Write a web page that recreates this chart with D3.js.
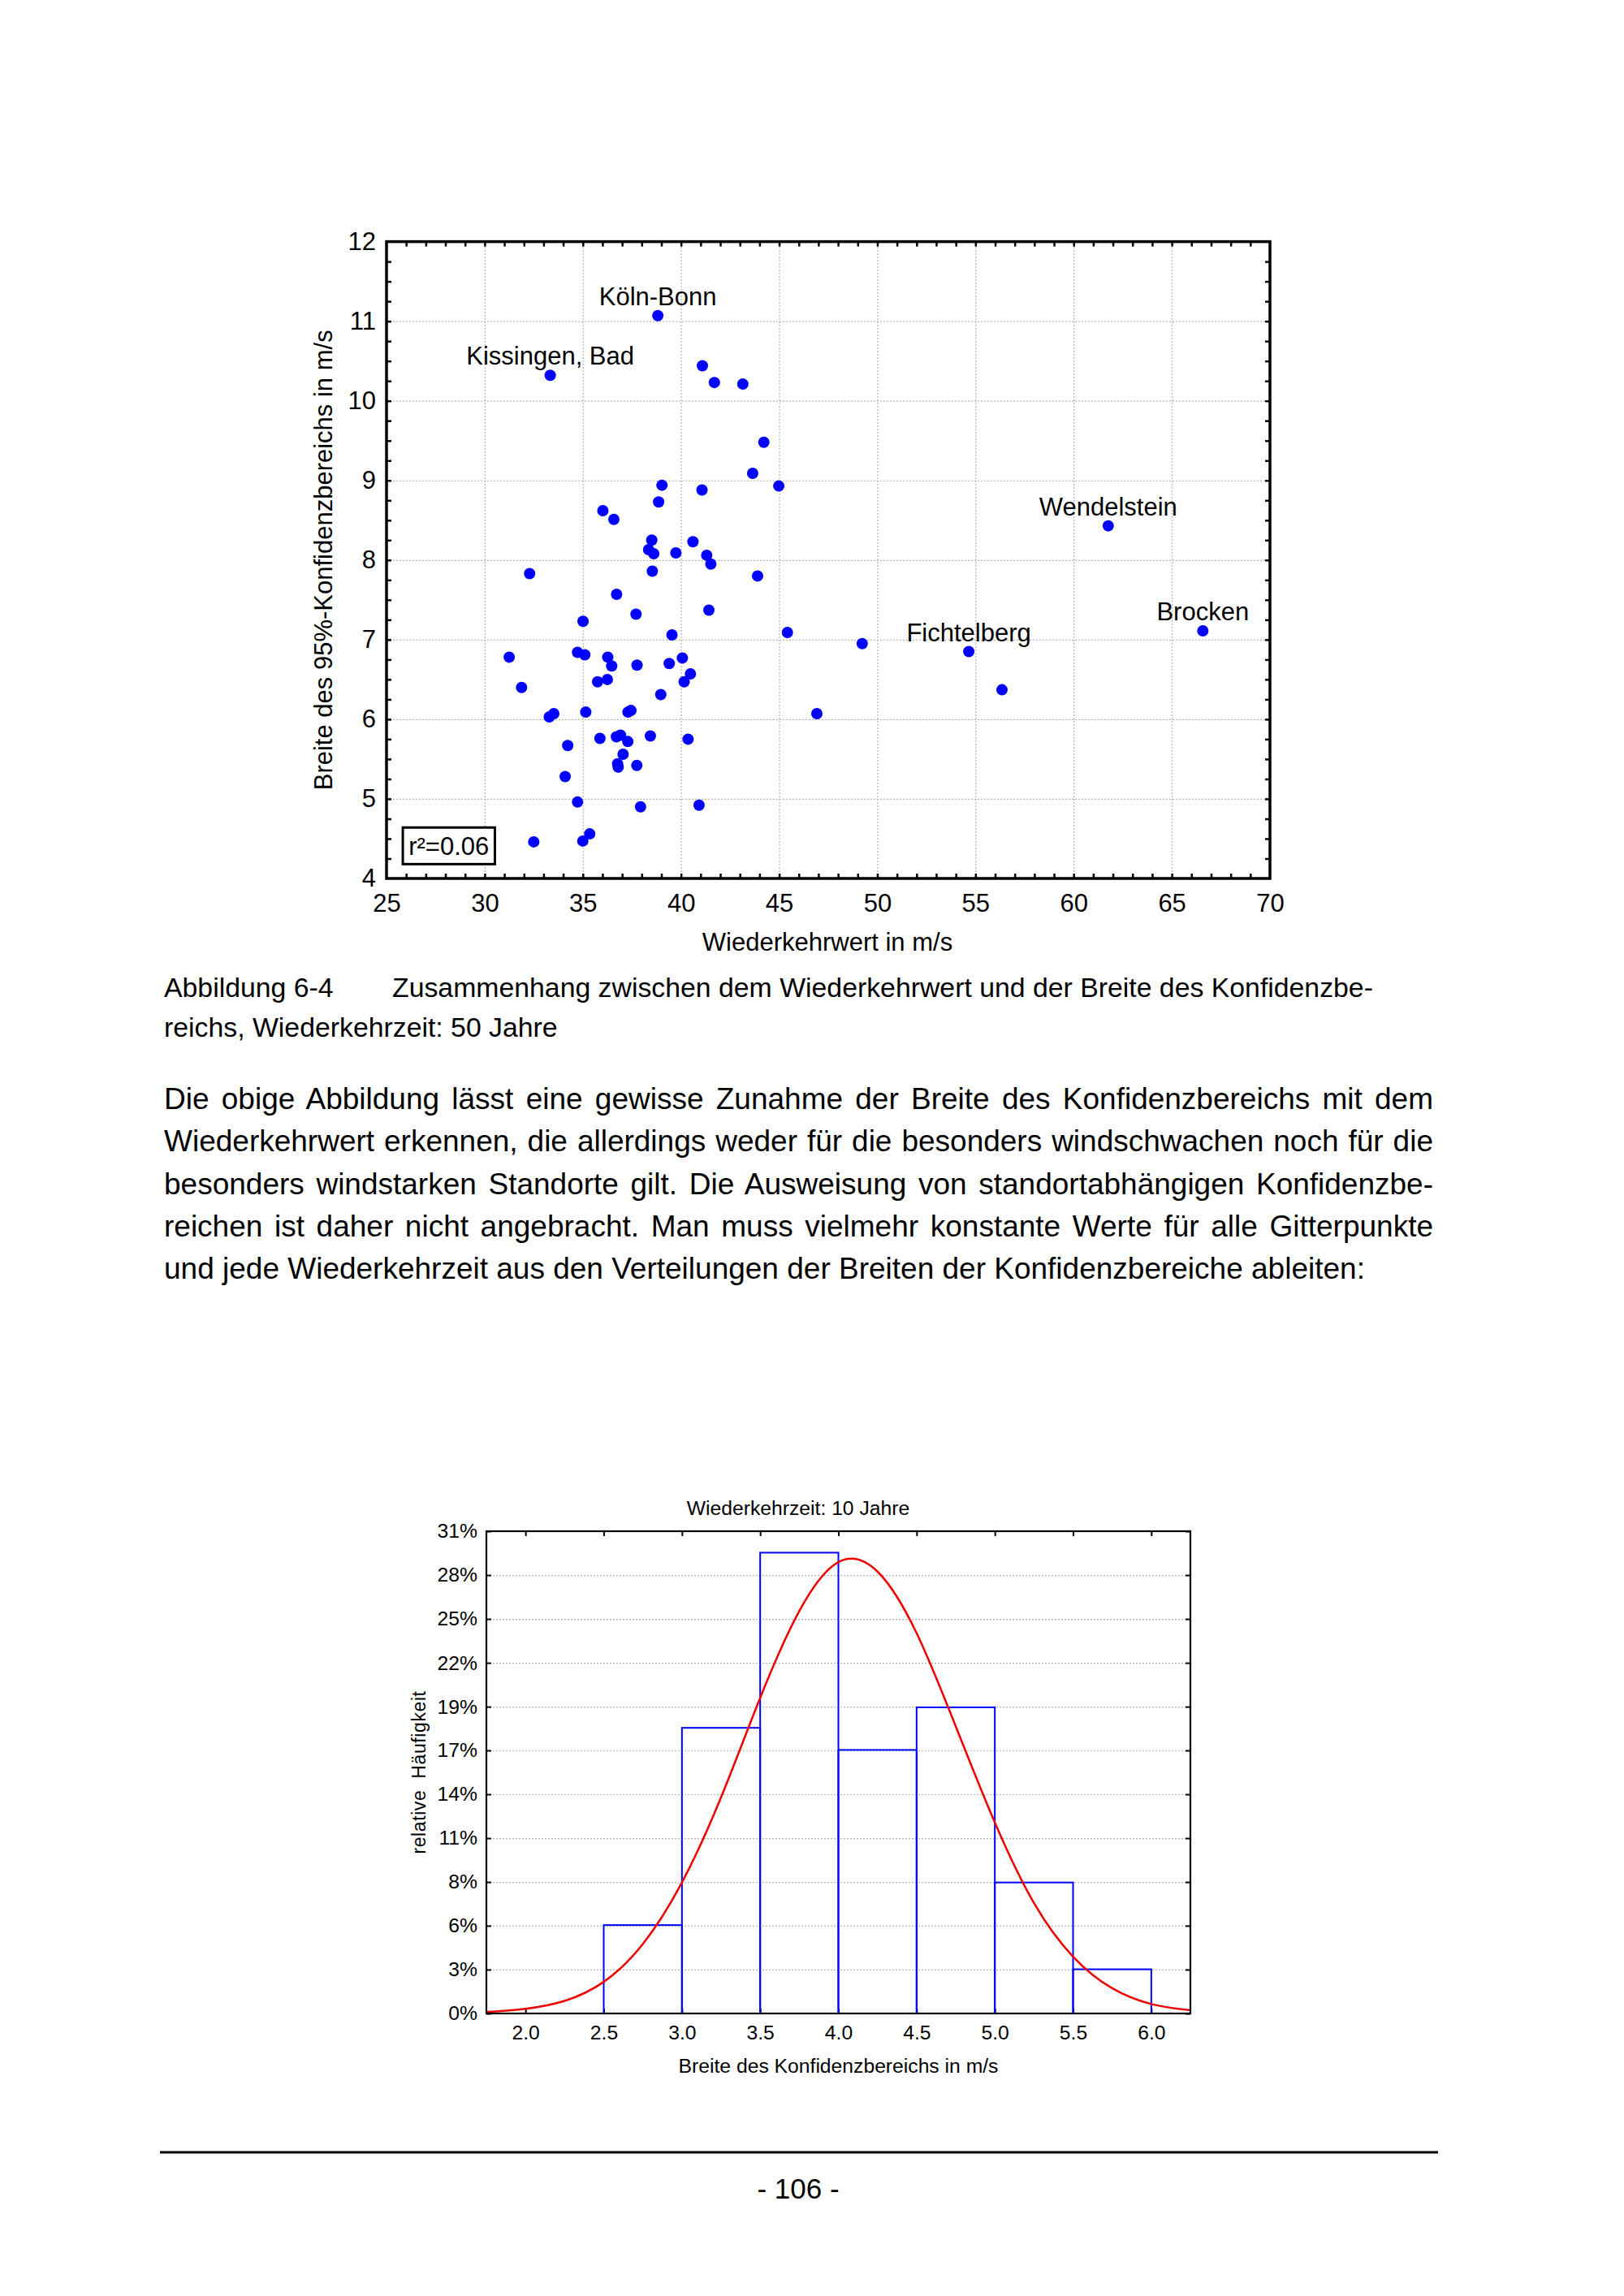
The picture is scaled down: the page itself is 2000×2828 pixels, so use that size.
<!DOCTYPE html>
<html>
<head>
<meta charset="utf-8">
<script src="https://cdnjs.cloudflare.com/ajax/libs/d3/7.8.5/d3.min.js"></script>
<style>
    body { margin: 0; background: #fff; }
    svg text { font-family: "Liberation Sans", Arial, Helvetica, sans-serif; }
</style>
</head>
<body>
<div id="page"></div>
<script>
// ---- scatter data (Wiederkehrzeit 50 Jahre) ----
// the first five entries are the labelled stations
const stationNames = ['Köln-Bonn', 'Kissingen, Bad', 'Wendelstein', 'Fichtelberg', 'Brocken'];
const returnValues = [
    38.82, 33.34, 61.76, 54.66, 66.58,
    41.09, 41.70, 43.15, 44.22, 43.65, 44.98, 39.03, 41.07, 38.86, 36.02,
    36.58, 38.51, 40.61, 38.35, 38.61, 39.74, 41.31, 41.52, 38.54, 32.29,
    43.90, 36.72, 37.71, 41.42, 35.01, 39.54, 45.42, 49.23, 31.25, 34.73,
    35.10, 36.27, 36.47, 37.76, 39.40, 40.07, 40.48, 40.16, 31.88, 35.75,
    36.25, 38.97, 33.29, 33.52, 35.15, 37.30, 37.45, 46.92, 56.35, 35.87,
    36.71, 36.92, 37.29, 38.44, 40.36, 34.23, 37.05, 36.77, 36.80, 37.75,
    34.10, 34.73, 37.94, 40.92, 32.50, 35.00, 35.35
];
const ciWidths = [
    11.07, 10.32, 8.43, 6.85, 7.11,
    10.44, 10.23, 10.21, 9.48, 9.09, 8.93, 8.94, 8.88, 8.73, 8.62,
    8.51, 8.25, 8.23, 8.13, 8.08, 8.09, 8.06, 7.95, 7.86, 7.83,
    7.80, 7.57, 7.32, 7.37, 7.23, 7.06, 7.09, 6.95, 6.78, 6.84,
    6.81, 6.78, 6.67, 6.68, 6.70, 6.77, 6.57, 6.47, 6.40, 6.47,
    6.50, 6.31, 6.03, 6.07, 6.09, 6.09, 6.11, 6.07, 6.37, 5.76,
    5.78, 5.80, 5.72, 5.79, 5.75, 5.67, 5.56, 5.44, 5.40, 5.42,
    5.28, 4.96, 4.90, 4.92, 4.46, 4.47, 4.56
];
const scatterXTicks = [25, 30, 35, 40, 45, 50, 55, 60, 65, 70];
const scatterYTicks = [4, 5, 6, 7, 8, 9, 10, 11, 12];
const rSquaredLabel = 'r²=0.06';

// ---- histogram data (Wiederkehrzeit 10 Jahre) ----
const binStarts = [2.5, 3.0, 3.5, 4.0, 4.5, 5.0, 5.5];
const binFreq = [5.6, 18.1, 29.2, 16.7, 19.4, 8.3, 2.8];   // percent
const histXTicks = [2.0, 2.5, 3.0, 3.5, 4.0, 4.5, 5.0, 5.5, 6.0];
const histYTicks = [0, 2.78, 5.56, 8.33, 11.11, 13.89, 16.67, 19.44, 22.22, 25.0, 27.78, 30.56];
const histYLabels = ['0%', '3%', '6%', '8%', '11%', '14%', '17%', '19%', '22%', '25%', '28%', '31%'];
// red normal curve, every 0.25 m/s
const curveX = [1.75, 2.0, 2.25, 2.5, 2.75, 3.0, 3.25, 3.5, 3.75, 4.0, 4.25, 4.5, 4.75, 5.0, 5.25, 5.5, 5.75, 6.0, 6.25];
const curveY = [0.1, 0.3, 0.8, 2.0, 4.4, 8.3, 13.7, 20.0, 25.5, 28.6, 28.0, 24.1, 18.2, 12.1, 7.0, 3.6, 1.6, 0.6, 0.2];

// ---- page text ----
const captionLabel = 'Abbildung 6-4';
const captionLines = [
    'Zusammenhang zwischen dem Wiederkehrwert und der Breite des Konfidenzbe-',
    'reichs, Wiederkehrzeit: 50 Jahre'
];
const paragraphLines = [
    'Die obige Abbildung lässt eine gewisse Zunahme der Breite des Konfidenzbereichs mit dem',
    'Wiederkehrwert erkennen, die allerdings weder für die besonders windschwachen noch für die',
    'besonders windstarken Standorte gilt. Die Ausweisung von standortabhängigen Konfidenzbe-',
    'reichen ist daher nicht angebracht. Man muss vielmehr konstante Werte für alle Gitterpunkte',
    'und jede Wiederkehrzeit aus den Verteilungen der Breiten der Konfidenzbereiche ableiten:'
];
const pageNumber = '- 106 -';

const svg = d3.select('#page').append('svg')
    .attr('width', 2000)
    .attr('height', 2828);
svg.append('rect').attr('width', 2000).attr('height', 2828).attr('fill', '#fff');

function styleGrid(g) {
    g.select('.domain').remove();
    g.selectAll('.tick line').attr('stroke', '#b4b4b4').attr('stroke-width', 1.2).attr('stroke-dasharray', '2,2');
}
function styleTicks(g, w) {
    g.select('.domain').remove();
    g.selectAll('.tick line').attr('stroke', '#000').attr('stroke-width', w || 2.5);
}

function drawScatter() {
    const left = 476, right = 1564, top = 297.6, bottom = 1082;
    const x = d3.scaleLinear().domain([25, 70]).range([left, right]);
    const y = d3.scaleLinear().domain([4, 12]).range([bottom, top]);
    const chart = svg.append('g').attr('class', 'scatter');

    // grid
    chart.append('g').attr('transform', `translate(0,${bottom})`)
        .call(d3.axisBottom(x).tickValues(scatterXTicks.slice(1, -1)).tickSize(-(bottom - top)).tickFormat(''))
        .call(styleGrid);
    chart.append('g').attr('transform', `translate(${left},0)`)
        .call(d3.axisLeft(y).tickValues(scatterYTicks.slice(1, -1)).tickSize(-(right - left)).tickFormat(''))
        .call(styleGrid);

    // small inner ticks on all four sides
    const xMinor = d3.range(26, 70, 1);
    const yMinor = d3.range(4.25, 12, 0.25);
    chart.append('g').attr('transform', `translate(0,${bottom})`)
        .call(d3.axisBottom(x).tickValues(xMinor).tickSize(-6).tickFormat('')).call(styleTicks);
    chart.append('g').attr('transform', `translate(0,${top})`)
        .call(d3.axisTop(x).tickValues(xMinor).tickSize(-6).tickFormat('')).call(styleTicks);
    chart.append('g').attr('transform', `translate(${left},0)`)
        .call(d3.axisLeft(y).tickValues(yMinor).tickSize(-6).tickFormat('')).call(styleTicks);
    chart.append('g').attr('transform', `translate(${right},0)`)
        .call(d3.axisRight(y).tickValues(yMinor).tickSize(-6).tickFormat('')).call(styleTicks);

    // frame
    chart.append('rect')
        .attr('x', left).attr('y', top)
        .attr('width', right - left).attr('height', bottom - top)
        .attr('fill', 'none').attr('stroke', '#000').attr('stroke-width', 3.5);

    // tick labels
    const xl = chart.append('g').attr('transform', `translate(0,${bottom})`)
        .call(d3.axisBottom(x).tickValues(scatterXTicks).tickSize(0).tickPadding(19).tickFormat(d3.format('d')));
    xl.select('.domain').remove();
    xl.selectAll('text').attr('font-size', 31).attr('font-family', 'Liberation Sans').attr('fill', '#000');
    const yl = chart.append('g').attr('transform', `translate(${left},0)`)
        .call(d3.axisLeft(y).tickValues(scatterYTicks).tickSize(0).tickPadding(13).tickFormat(d3.format('d')));
    yl.select('.domain').remove();
    yl.selectAll('text').attr('font-size', 31).attr('font-family', 'Liberation Sans').attr('fill', '#000');

    // axis titles
    chart.append('text')
        .attr('x', (left + right) / 2 - 1).attr('y', 1171)
        .attr('text-anchor', 'middle').attr('font-size', 31)
        .text('Wiederkehrwert in m/s');
    chart.append('text')
        .attr('transform', `translate(409,${(top + bottom) / 2}) rotate(-90)`)
        .attr('text-anchor', 'middle').attr('font-size', 31)
        .text('Breite des 95%-Konfidenzbereichs in m/s');

    // points
    chart.append('g').selectAll('circle')
        .data(returnValues)
        .join('circle')
        .attr('cx', d => x(d))
        .attr('cy', (d, i) => y(ciWidths[i]))
        .attr('r', 7)
        .attr('fill', '#0000ff');

    // station names
    chart.append('g').selectAll('text')
        .data(stationNames)
        .join('text')
        .attr('x', (d, i) => x(returnValues[i]))
        .attr('y', (d, i) => y(ciWidths[i]) - 13)
        .attr('text-anchor', 'middle')
        .attr('font-size', 31)
        .text(d => d);

    // r² box
    const bx = x(25.83), bw = x(30.52) - x(25.83);
    const by = y(4.64), bh = y(4.18) - y(4.64);
    chart.append('rect')
        .attr('x', bx).attr('y', by).attr('width', bw).attr('height', bh)
        .attr('fill', '#fff').attr('stroke', '#000').attr('stroke-width', 3);
    chart.append('text')
        .attr('x', bx + bw / 2).attr('y', by + bh / 2 + 11)
        .attr('text-anchor', 'middle').attr('font-size', 31)
        .text(rSquaredLabel);
}

function drawHistogram() {
    const left = 599, right = 1466, top = 1886, bottom = 2480;
    const x = d3.scaleLinear().domain([1.75, 6.25]).range([left, right]);
    const y = d3.scaleLinear().domain([0, 30.56]).range([bottom, top]);
    const chart = svg.append('g').attr('class', 'histogram');

    chart.append('g').attr('transform', `translate(${left},0)`)
        .call(d3.axisLeft(y).tickValues(histYTicks.slice(1, -1)).tickSize(-(right - left)).tickFormat(''))
        .call(styleGrid);

    chart.append('g').attr('transform', `translate(0,${bottom})`)
        .call(d3.axisBottom(x).tickValues(histXTicks).tickSize(-6).tickFormat('')).call(g => styleTicks(g, 2));
    chart.append('g').attr('transform', `translate(0,${top})`)
        .call(d3.axisTop(x).tickValues(histXTicks).tickSize(-6).tickFormat('')).call(g => styleTicks(g, 2));
    chart.append('g').attr('transform', `translate(${left},0)`)
        .call(d3.axisLeft(y).tickValues(histYTicks).tickSize(-6).tickFormat('')).call(g => styleTicks(g, 2));
    chart.append('g').attr('transform', `translate(${right},0)`)
        .call(d3.axisRight(y).tickValues(histYTicks).tickSize(-6).tickFormat('')).call(g => styleTicks(g, 2));

    // bars
    chart.append('g').selectAll('rect')
        .data(binStarts)
        .join('rect')
        .attr('x', d => x(d))
        .attr('y', (d, i) => y(binFreq[i]))
        .attr('width', d => x(d + 0.5) - x(d))
        .attr('height', (d, i) => y(0) - y(binFreq[i]))
        .attr('fill', 'none')
        .attr('stroke', '#0000ff')
        .attr('stroke-width', 2);

    // normal curve
    const line = d3.line()
        .x(d => x(d))
        .y((d, i) => y(curveY[i]))
        .curve(d3.curveNatural);
    chart.append('path')
        .datum(curveX)
        .attr('d', line)
        .attr('fill', 'none')
        .attr('stroke', '#ee0000')
        .attr('stroke-width', 2.5);

    chart.append('rect')
        .attr('x', left).attr('y', top)
        .attr('width', right - left).attr('height', bottom - top)
        .attr('fill', 'none').attr('stroke', '#000').attr('stroke-width', 2.2);

    const xl = chart.append('g').attr('transform', `translate(0,${bottom})`)
        .call(d3.axisBottom(x).tickValues(histXTicks).tickSize(0).tickPadding(14).tickFormat(d3.format('.1f')));
    xl.select('.domain').remove();
    xl.selectAll('text').attr('font-size', 24.7).attr('font-family', 'Liberation Sans').attr('fill', '#000');
    const yl = chart.append('g').attr('transform', `translate(${left},0)`)
        .call(d3.axisLeft(y).tickValues(histYTicks).tickSize(0).tickPadding(11).tickFormat((d, i) => histYLabels[i]));
    yl.select('.domain').remove();
    yl.selectAll('text').attr('font-size', 24.7).attr('font-family', 'Liberation Sans').attr('fill', '#000');

    chart.append('text')
        .attr('x', 983).attr('y', 1866)
        .attr('text-anchor', 'middle').attr('font-size', 24.7)
        .text('Wiederkehrzeit: 10 Jahre');
    chart.append('text')
        .attr('x', (left + right) / 2).attr('y', 2553)
        .attr('text-anchor', 'middle').attr('font-size', 24.7)
        .text('Breite des Konfidenzbereichs in m/s');
    chart.append('text')
        .attr('transform', `translate(524,${(top + bottom) / 2}) rotate(-90)`)
        .attr('text-anchor', 'middle').attr('font-size', 23)
        .attr('letter-spacing', 0.6)
        .text('relative  Häufigkeit')
        .style('white-space', 'pre');
}

function drawPageText() {
    const marginL = 202, marginR = 1765;
    const g = svg.append('g').attr('class', 'page-text');

    g.append('text').attr('x', marginL).attr('y', 1228).attr('font-size', 33.8).text(captionLabel);
    g.append('text').attr('x', 483).attr('y', 1228).attr('font-size', 33.8).text(captionLines[0]);
    g.append('text').attr('x', marginL).attr('y', 1277).attr('font-size', 33.8).text(captionLines[1]);

    paragraphLines.forEach((t, i) => {
        const txt = g.append('text')
            .attr('x', marginL)
            .attr('y', 1366 + i * 52.3)
            .attr('font-size', 37)
            .text(t);
        // justify every line but the last
        if (i < paragraphLines.length - 1) {
            const w = txt.node().getComputedTextLength();
            const gaps = t.split(' ').length - 1;
            txt.attr('word-spacing', (marginR - marginL - w) / gaps);
        }
    });

    g.append('line')
        .attr('x1', 197).attr('x2', 1771)
        .attr('y1', 2651).attr('y2', 2651)
        .attr('stroke', '#000').attr('stroke-width', 3);
    g.append('text')
        .attr('x', 983).attr('y', 2708)
        .attr('text-anchor', 'middle').attr('font-size', 35)
        .text(pageNumber);
}

drawScatter();
drawHistogram();
drawPageText();
</script>
</body>
</html>
